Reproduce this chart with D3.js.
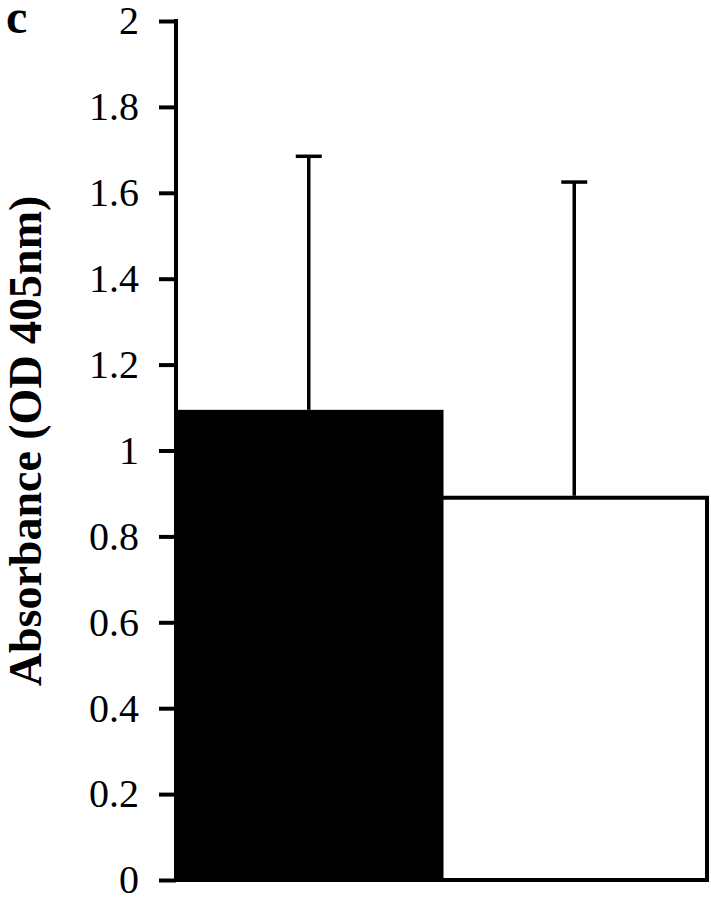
<!DOCTYPE html>
<html>
<head>
<meta charset="utf-8">
<script src="https://cdn.jsdelivr.net/npm/d3@7"></script>
<style>
  body { margin: 0; background: #fff; }
  svg text { font-family: "Liberation Serif", "Times New Roman", serif; }
</style>
</head>
<body>
<div id="chart"></div>
<script>
// chart values
var groups = ["A", "B"];
var means = [1.09, 0.89];
var errs = [0.595, 0.735];
var fills = ["#000", "#fff"];
var yTicks = [0, 0.2, 0.4, 0.6, 0.8, 1, 1.2, 1.4, 1.6, 1.8, 2];

var width = 711;
var height = 900;
var margin = { top: 21, right: 4, bottom: 20, left: 176 };

var svg = d3.select("#chart")
	.append("svg")
	.attr("width", width)
	.attr("height", height);

var x = d3.scaleBand()
	.domain(groups)
	.range([margin.left, width - margin.right])
	.padding(0);

var y = d3.scaleLinear()
	.domain([0, 2])
	.range([height - margin.bottom, margin.top]);

// bars
svg.selectAll("rect.bar")
	.data(groups)
	.enter()
	.append("rect")
	.attr("class", "bar")
	.attr("x", function (d) { return x(d); })
	.attr("y", function (d, i) { return y(means[i]); })
	.attr("width", x.bandwidth())
	.attr("height", function (d, i) { return y(0) - y(means[i]); })
	.style("fill", function (d, i) { return fills[i]; })
	.style("stroke", "#000")
	.style("stroke-width", 4);

// error bars (upper only)
var capW = 13;
var eb = svg.selectAll("g.err")
	.data(groups)
	.enter()
	.append("g")
	.attr("class", "err");

eb.append("line")
	.attr("x1", function (d) { return x(d) + x.bandwidth() / 2; })
	.attr("x2", function (d) { return x(d) + x.bandwidth() / 2; })
	.attr("y1", function (d, i) { return y(means[i]) - 2; })
	.attr("y2", function (d, i) { return y(means[i] + errs[i]); })
	.style("stroke", "#000")
	.style("stroke-width", 3.5);

eb.append("line")
	.attr("x1", function (d) { return x(d) + x.bandwidth() / 2 - capW; })
	.attr("x2", function (d) { return x(d) + x.bandwidth() / 2 + capW; })
	.attr("y1", function (d, i) { return y(means[i] + errs[i]); })
	.attr("y2", function (d, i) { return y(means[i] + errs[i]); })
	.style("stroke", "#000")
	.style("stroke-width", 3.5);

// y axis
var yAxis = d3.axisLeft(y)
	.tickValues(yTicks)
	.tickSize(17)
	.tickPadding(20)
	.tickFormat(function (d) { return d3.format("")(+d.toFixed(1)); });

var gy = svg.append("g")
	.attr("transform", "translate(" + margin.left + ",0)")
	.call(yAxis);

gy.select(".domain").remove();
gy.append("line")
	.attr("x1", 0).attr("x2", 0)
	.attr("y1", y(2) - 2).attr("y2", y(0) + 2)
	.style("stroke", "#000")
	.style("stroke-width", 4);
gy.selectAll(".tick line")
	.style("stroke", "#000")
	.style("stroke-width", 4);
gy.selectAll(".tick text")
	.style("font-family", "'Liberation Serif', 'Times New Roman', serif")
	.style("font-size", "40px")
	.style("fill", "#000");

// axis title
svg.append("text")
	.attr("transform", "translate(41," + 441 + ") rotate(-90)")
	.attr("text-anchor", "middle")
	.style("font-size", "46px")
	.style("font-weight", "bold")
	.text("Absorbance (OD 405nm)");

// panel letter
svg.append("text")
	.attr("x", 6)
	.attr("y", 33)
	.style("font-size", "48px")
	.style("font-weight", "bold")
	.text("c");
</script>
</body>
</html>
